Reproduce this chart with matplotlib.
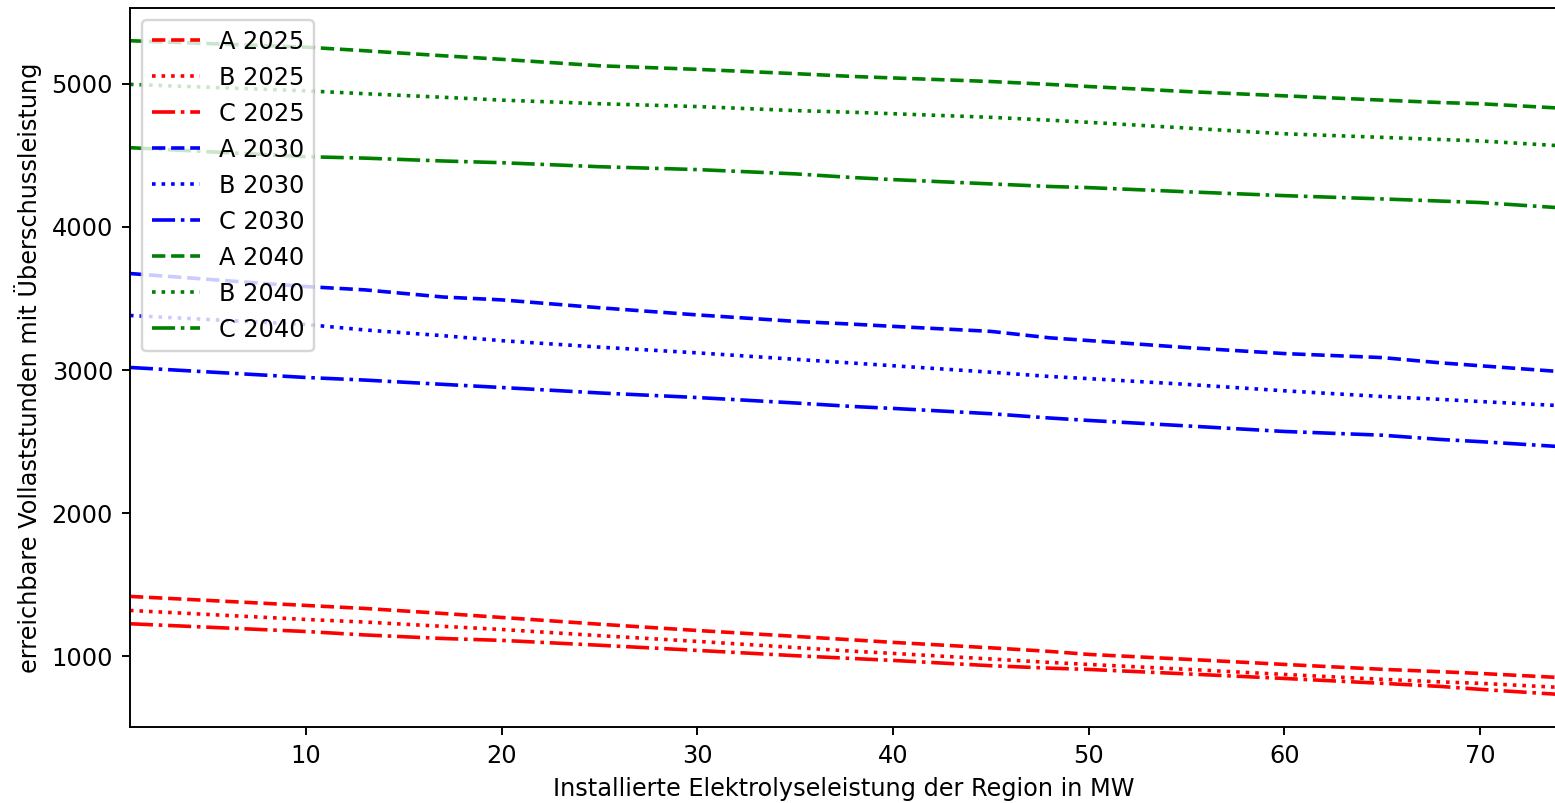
import matplotlib
matplotlib.use('Agg')
import matplotlib.pyplot as plt

# installed electrolysis capacity (MW) at the read-off points
x = [1, 10, 13, 17, 20, 25, 30, 35, 38, 40, 45, 48, 50, 55, 60, 65, 68, 70, 74]

# 2025
a_2025 = [1419, 1356, 1335, 1300, 1272, 1225, 1181, 1140, 1115, 1098, 1060, 1035, 1014, 980, 944, 910, 893, 881, 853]
b_2025 = [1321, 1258, 1240, 1210, 1188, 1145, 1105, 1062, 1036, 1021, 982, 958, 944, 910, 874, 840, 822, 812, 784]
c_2025 = [1228, 1174, 1150, 1125, 1112, 1078, 1042, 1005, 985, 972, 935, 918, 909, 878, 846, 812, 790, 770, 735]

# 2030
a_2030 = [3674, 3583, 3560, 3510, 3490, 3435, 3385, 3340, 3320, 3305, 3270, 3225, 3206, 3157, 3115, 3087, 3050, 3030, 2990]
b_2030 = [3381, 3318, 3280, 3240, 3205, 3160, 3120, 3075, 3048, 3030, 2985, 2955, 2940, 2900, 2855, 2815, 2795, 2780, 2752]
c_2030 = [3018, 2948, 2930, 2900, 2878, 2840, 2808, 2770, 2745, 2732, 2695, 2665, 2648, 2610, 2571, 2545, 2515, 2500, 2466]

# 2040
a_2040 = [5300, 5255, 5230, 5195, 5170, 5125, 5100, 5070, 5050, 5040, 5015, 4995, 4980, 4945, 4915, 4885, 4868, 4860, 4830]
b_2040 = [4995, 4950, 4930, 4905, 4885, 4860, 4840, 4812, 4800, 4790, 4765, 4745, 4730, 4690, 4650, 4625, 4610, 4600, 4567]
c_2040 = [4553, 4490, 4480, 4460, 4448, 4420, 4400, 4370, 4344, 4330, 4300, 4282, 4274, 4245, 4218, 4195, 4180, 4170, 4134]

series = [
    ('A 2025', a_2025, 'red', '--'),
    ('B 2025', b_2025, 'red', ':'),
    ('C 2025', c_2025, 'red', '-.'),
    ('A 2030', a_2030, 'blue', '--'),
    ('B 2030', b_2030, 'blue', ':'),
    ('C 2030', c_2030, 'blue', '-.'),
    ('A 2040', a_2040, 'green', '--'),
    ('B 2040', b_2040, 'green', ':'),
    ('C 2040', c_2040, 'green', '-.'),
]

DPI = 173
fig = plt.figure(figsize=(1556 / DPI, 803 / DPI), dpi=DPI)
ax = fig.add_axes([0.0835, 0.0946, 0.918, 0.8954])

for label, y, color, style in series:
    ax.plot(x, y, color=color, linestyle=style, label=label)

ax.set_xlim(1, 74)
ax.set_xlabel('Installierte Elektrolyseleistung der Region in MW')
ax.set_ylabel('erreichbare Vollaststunden mit Überschussleistung')
ax.legend(loc='upper left')

fig.savefig('out.png', dpi=DPI)
